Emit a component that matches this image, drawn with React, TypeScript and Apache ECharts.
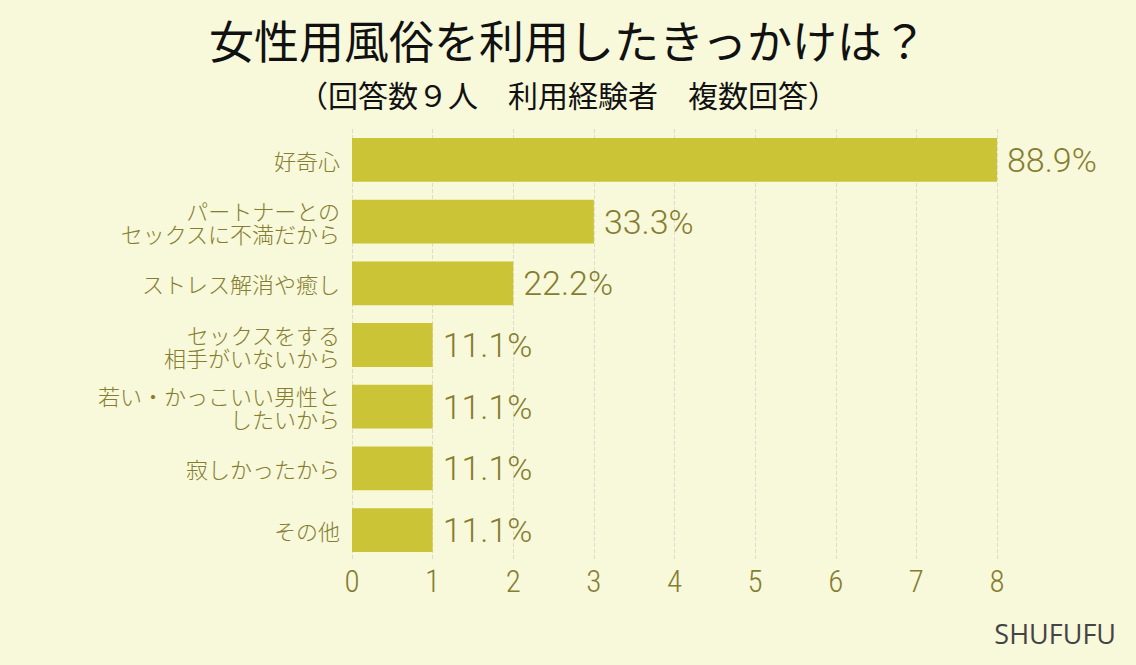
import React, { useEffect, useRef } from "react";
import * as echarts from "echarts";

const categories = [
  "好奇心",
  "パートナーとの\nセックスに不満だから",
  "ストレス解消や癒し",
  "セックスをする\n相手がいないから",
  "若い・かっこいい男性と\nしたいから",
  "寂しかったから",
  "その他",
];
const counts = [8, 3, 2, 1, 1, 1, 1];
const percentLabels = ["88.9%", "33.3%", "22.2%", "11.1%", "11.1%", "11.1%", "11.1%"];
const xTicks = [0, 1, 2, 3, 4, 5, 6, 7, 8];

const TEXT = "#857d2f";
const BAR = "#cbc436";
const BG = "#f8f8da";

export default function App() {
  const ref = useRef<HTMLDivElement>(null);
  useEffect(() => {
    if (!ref.current) return;
    const chart = echarts.init(ref.current, undefined, { renderer: "svg" });
    chart.setOption({
      animation: false,
      backgroundColor: BG,
      textStyle: { fontFamily: "Noto Sans CJK JP" },
      title: [
        {
          text: "女性用風俗を利用したきっかけは？",
          left: "center",
          top: 12,
          textStyle: { fontSize: 45, fontWeight: "normal", color: "#111", fontFamily: "Noto Sans CJK JP" },
        },
        {
          text: "（回答数９人　利用経験者　複数回答）",
          left: "center",
          top: 74,
          textStyle: { fontSize: 30, fontWeight: "normal", color: "#111", fontFamily: "Noto Sans CJK JP" },
        },
      ],
      graphic: [
        {
          type: "text",
          right: 20,
          bottom: 18,
          style: { text: "SHUFUFU", fontSize: 27, fill: "#444", fontFamily: "Open Sans" },
        },
      ],
      grid: { left: 352, right: 139, top: 129, bottom: 104, containLabel: false },
      xAxis: {
        type: "value",
        min: 0,
        max: 8,
        interval: 1,
        axisLine: { show: false },
        axisTick: { show: false },
        axisLabel: {
          color: TEXT,
          fontSize: 31,
          margin: 5,
          fontWeight: 300,
          fontFamily: "Roboto Condensed, Roboto",
          formatter: (v: number) => (xTicks.includes(v) ? String(v) : ""),
        },
        splitLine: { show: true, lineStyle: { color: "#dcdccc", type: "dashed", width: 1 } },
      },
      yAxis: {
        type: "category",
        data: categories,
        inverse: true,
        axisLine: { show: false },
        axisTick: { show: false },
        axisLabel: {
          color: TEXT,
          fontSize: 22,
          lineHeight: 23,
          margin: 12,
          align: "right",
          fontWeight: 300,
          fontFamily: "Noto Sans CJK JP",
        },
      },
      series: [
        {
          type: "bar",
          data: counts,
          barCategoryGap: "29%",
          itemStyle: { color: BAR },
          label: {
            show: true,
            position: "right",
            distance: 10,
            color: TEXT,
            fontSize: 34,
            fontWeight: 300,
            fontFamily: "Roboto",
            formatter: (p: any) => percentLabels[p.dataIndex],
          },
        },
      ],
    });
    return () => chart.dispose();
  }, []);
  return (
    <div
      ref={ref}
      style={{ position: "fixed", left: 0, top: 0, width: 1136, height: 665 }}
    />
  );
}
